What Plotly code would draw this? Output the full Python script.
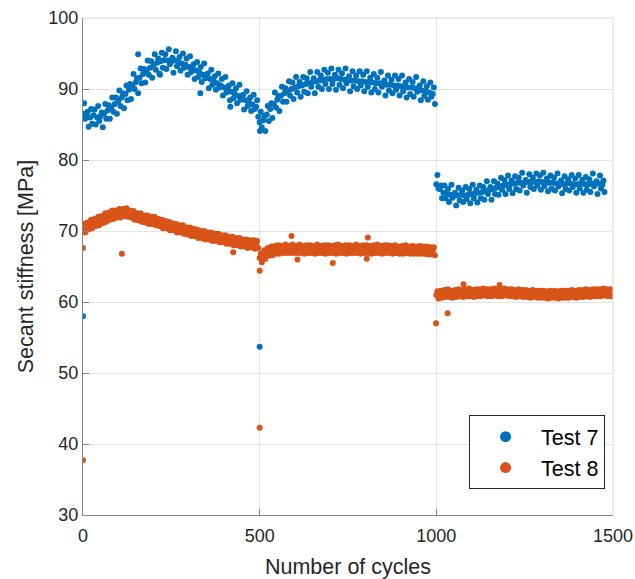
import plotly.graph_objects as go

# Sample positions (cycle numbers) of the readings, one reading per 10 cycles per row
cycles_mid = list(range(0, 1500, 10))
cycles_hi = list(range(3, 1500, 10))
cycles_lo = list(range(6, 1500, 10))

# ---- Test 7 (blue) : read band centre, upper and lower rows ----
t7_mid = [86.5,86.2,86.0,86.3,86.0,86.2,86.6,87.0,87.4,87.9, 88.3,88.8,89.3,89.9,90.5,91.0,91.6,92.1,92.6,93.0,
          93.4,93.7,93.9,94.1,94.0,93.9,94.0,93.8,93.6,93.4, 93.1,92.9,92.6,92.3,92.0,91.7,91.4,91.1,90.8,90.5,
          90.2,89.9,89.6,89.3,89.0,88.7,88.4,88.1,87.8,87.5,
          85.3,85.6,86.4,87.2,87.9,88.5,89.0,89.4,89.7,90.0, 90.2,90.4,90.5,90.7,90.8,91.0,91.1,91.2,91.3,91.4,
          91.4,91.4,91.5,91.4,91.3,91.3,91.2,91.2,91.1,91.1, 91.0,91.0,90.9,90.8,90.8,90.7,90.6,90.6,90.5,90.5,
          90.4,90.3,90.2,90.2,90.1,90.0,89.8,89.7,89.5,89.3,
          76.6,75.9,75.4,75.2,75.1,75.0,75.0,75.1,75.0,75.1, 75.2,75.3,75.4,75.5,75.6,75.8,75.9,76.1,76.3,76.4,
          76.5,76.6,76.7,76.8,76.8,76.8,76.9,76.9,76.9,77.0, 76.9,76.9,76.8,76.8,76.7,76.7,76.6,76.7,76.7,76.6,
          76.6,76.7,76.6,76.6,76.7,76.6,76.7,76.5,None,None]
t7_hi = [88.0,86.8,87.2,87.1,87.6,86.7,87.9,87.7,88.8,88.8, 89.8,89.4,90.5,90.7,92.1,91.5,92.9,92.8,94.0,93.9,
         94.9,94.3,95.1,94.9,95.6,94.4,95.3,94.5,95.0,94.3, 94.6,93.5,93.8,93.1,93.6,92.2,92.7,91.8,92.2,91.4,
         91.7,90.5,90.8,90.1,90.6,89.2,89.7,88.8,89.2,88.4,
         86.8,86.2,87.6,88.0,89.5,89.0,90.3,90.1,91.1,90.9, 91.7,91.0,91.7,91.5,92.4,91.5,92.4,91.9,92.7,92.3,
         92.9,92.0,92.7,92.2,92.9,91.8,92.5,91.9,92.5,92.0, 92.5,91.6,92.1,91.6,92.4,91.2,91.9,91.3,91.9,91.4,
         91.9,90.9,91.4,91.0,91.7,90.5,91.1,90.4,90.9,90.2,
         77.9,76.4,76.4,75.9,76.5,75.4,76.1,75.7,76.2,75.9, 76.5,75.8,76.4,76.2,77.0,76.2,77.0,76.7,77.5,77.2,
         77.8,77.1,77.7,77.5,78.2,77.2,78.0,77.5,78.1,77.8, 78.2,77.4,77.8,77.5,78.1,77.1,77.7,77.3,77.9,77.4,
         77.9,77.2,77.6,77.3,78.1,77.0,77.8,77.1,None,None]
t7_lo = [85.8,84.7,85.1,85.0,85.5,84.6,85.8,85.8,86.8,86.5, 87.6,87.3,88.4,88.6,90.0,89.4,90.8,90.9,92.0,91.6,
         92.7,92.2,93.0,92.8,93.5,92.3,93.2,92.6,93.0,92.0, 92.4,91.4,91.7,91.0,91.5,90.1,90.6,89.9,90.2,89.1,
         89.5,88.4,88.7,88.0,88.5,87.1,87.6,86.9,87.2,86.1,
         84.6,84.1,85.5,85.9,87.4,86.9,88.2,88.2,89.1,88.6, 89.5,88.9,89.6,89.4,90.3,89.4,90.3,90.0,90.7,90.0,
         90.7,89.9,90.6,90.1,90.8,89.7,90.4,90.0,90.5,89.7, 90.3,89.5,90.0,89.5,90.3,89.1,89.8,89.4,89.9,89.1,
         89.7,88.8,89.3,88.9,89.6,88.4,89.0,88.5,88.9,87.9,
         76.0,74.6,74.6,74.1,74.7,73.6,74.3,74.1,74.5,73.9, 74.6,74.0,74.6,74.4,75.2,74.4,75.2,75.1,75.8,75.2,
         75.9,75.3,75.9,75.7,76.4,75.4,76.2,75.9,76.4,75.8, 76.3,75.6,76.0,75.7,76.3,75.3,75.9,75.7,76.2,75.4,
         76.0,75.4,75.8,75.5,76.3,75.2,76.0,75.5,None,None]
t7_out_x = [0, 500, 501, 156, 218, 332, 417]
t7_out_y = [58.0, 53.7, 84.1, 94.9, 92.0, 89.4, 87.5]

# ---- Test 8 (orange) ----
t8_mid = [70.4,70.7,71.0,71.2,71.4,71.6,71.9,72.1,72.3,72.4, 72.5,72.6,72.6,72.4,72.2,72.0,71.9,71.7,71.6,71.5,
          71.4,71.2,71.0,70.9,70.7,70.6,70.4,70.3,70.2,70.0, 69.9,69.8,69.6,69.5,69.4,69.3,69.2,69.1,69.0,68.9,
          68.8,68.7,68.6,68.5,68.4,68.3,68.2,68.2,68.1,68.1,
          66.2,66.7,67.0,67.2,67.3,67.4,67.4,67.5,67.4,67.5, 67.4,67.5,67.4,67.4,67.5,67.4,67.5,67.4,67.4,67.5,
          67.4,67.4,67.5,67.4,67.4,67.5,67.4,67.5,67.4,67.4, 67.5,67.4,67.4,67.5,67.4,67.4,67.5,67.4,67.4,67.3,
          67.4,67.4,67.3,67.4,67.3,67.4,67.3,67.3,67.2,67.2,
          61.0,61.1,61.2,61.2,61.1,61.2,61.3,61.2,61.3,61.3, 61.2,61.3,61.3,61.4,61.3,61.3,61.4,61.3,61.3,61.4,
          61.3,61.3,61.2,61.3,61.2,61.2,61.1,61.2,61.1,61.1, 61.1,61.0,61.1,61.1,61.0,61.1,61.1,61.1,61.2,61.1,
          61.2,61.2,61.3,61.2,61.3,61.3,61.3,61.4,61.3,61.3]
t8_hi = [71.0,71.2,71.6,71.7,72.0,72.1,72.5,72.6,72.9,72.9, 73.1,73.1,73.2,72.9,72.8,72.5,72.5,72.2,72.2,72.0,
         72.0,71.7,71.6,71.4,71.3,71.1,71.0,70.8,70.8,70.5, 70.5,70.3,70.2,70.0,70.0,69.8,69.8,69.6,69.6,69.4,
         69.4,69.2,69.2,69.0,69.0,68.8,68.8,68.7,68.7,68.6,
         66.8,67.3,67.6,67.8,67.9,68.0,67.9,68.1,67.9,68.1, 67.9,68.1,67.9,68.0,68.0,67.9,68.1,67.9,68.0,68.0,
         67.9,68.0,68.1,67.9,68.0,68.0,67.9,68.1,67.9,68.0, 68.0,67.9,68.0,68.1,67.9,68.0,68.0,67.9,68.0,67.8,
         67.9,68.0,67.8,67.9,67.8,67.9,67.8,67.8,67.7,67.7,
         61.5,61.6,61.7,61.8,61.6,61.7,61.8,61.7,61.8,61.9, 61.7,61.8,61.8,61.9,61.8,61.8,61.9,61.8,61.8,61.9,
         61.8,61.8,61.7,61.8,61.7,61.7,61.6,61.7,61.6,61.6, 61.6,61.5,61.6,61.6,61.5,61.6,61.6,61.6,61.7,61.6,
         61.7,61.7,61.8,61.7,61.8,61.8,61.8,61.9,61.8,61.8]
t8_lo = [69.8,70.2,70.4,70.7,70.8,71.1,71.3,71.6,71.7,71.9, 71.9,72.1,72.0,71.9,71.6,71.5,71.3,71.2,71.0,71.0,
         70.8,70.7,70.4,70.4,70.1,70.1,69.8,69.8,69.6,69.5, 69.3,69.3,69.0,69.0,68.8,68.8,68.6,68.6,68.4,68.4,
         68.2,68.2,68.0,68.0,67.8,67.8,67.6,67.7,67.5,67.6,
         65.6,66.1,66.5,66.6,66.8,66.8,66.9,66.9,66.9,66.9, 66.9,66.9,66.8,66.9,66.9,66.8,66.9,66.9,66.8,66.9,
         66.9,66.8,66.9,66.9,66.8,66.9,66.9,66.9,66.8,66.9, 66.9,66.8,66.9,66.9,66.8,66.9,66.9,66.8,66.9,66.8,
         66.8,66.9,66.8,66.8,66.8,66.8,66.8,66.7,66.7,66.6,
         60.5,60.6,60.7,60.7,60.6,60.7,60.8,60.7,60.8,60.8, 60.7,60.8,60.8,60.9,60.8,60.8,60.9,60.8,60.8,60.9,
         60.8,60.8,60.7,60.8,60.7,60.7,60.6,60.7,60.6,60.6, 60.6,60.5,60.6,60.6,60.5,60.6,60.6,60.6,60.7,60.6,
         60.7,60.7,60.8,60.7,60.8,60.8,60.8,60.9,60.8,60.8]
t8_out_x = [0, 0, 110, 425, 500, 500, 590, 806, 707, 607, 803, 999, 1032, 1077, 1179]
t8_out_y = [67.6, 37.7, 66.8, 67.0, 64.4, 42.3, 69.3, 69.1, 65.5, 66.0, 66.1, 57.0, 58.4, 62.5, 62.4]

series_names = ["Test 7", "Test 8"]
colors = ["#0072BD", "#D95319"]

fig = go.Figure()
for name, col, mid, hi, lo, ox, oy in [
    (series_names[0], colors[0], t7_mid, t7_hi, t7_lo, t7_out_x, t7_out_y),
    (series_names[1], colors[1], t8_mid, t8_hi, t8_lo, t8_out_x, t8_out_y),
]:
    xs = cycles_hi + cycles_mid + cycles_lo + ox
    ys = hi + mid + lo + oy
    fig.add_trace(go.Scatter(x=xs, y=ys, mode="markers", showlegend=False,
                             marker=dict(size=6, color=col, line=dict(width=0))))
    # legend entry
    fig.add_trace(go.Scatter(x=[None], y=[None], mode="markers", name=name,
                             marker=dict(size=11, color=col)))

font = "Liberation Sans, Arial, sans-serif"
axis_common = dict(showline=True, linecolor="#858585", linewidth=1.3,
                   showgrid=True, gridcolor="#e3e3e3", gridwidth=1,
                   ticks="inside", ticklen=6, tickcolor="#858585",
                   tickfont=dict(family=font, size=18, color="#262626"),
                   zeroline=False, mirror=False, automargin=False)

fig.update_layout(
    width=635, height=579,
    margin=dict(l=83, r=22, t=18, b=64),
    paper_bgcolor="white", plot_bgcolor="white",
    xaxis=dict(range=[0, 1500], tickvals=[0, 500, 1000, 1500],
               ticklabelstandoff=4,
               title=dict(text="Number of cycles", font=dict(family=font, size=21.5, color="#262626"),
                          standoff=15),
               **axis_common),
    yaxis=dict(range=[30, 100], tickvals=[30, 40, 50, 60, 70, 80, 90, 100],
               title=dict(text="Secant stiffness [MPa]", font=dict(family=font, size=21.5, color="#262626"),
                          standoff=8),
               **axis_common),
    legend=dict(x=0.985, y=0.052, xanchor="right", yanchor="bottom",
                bgcolor="white", bordercolor="#262626", borderwidth=1,
                font=dict(family=font, size=21.5, color="#000000"),
                itemwidth=61, tracegroupgap=0),
    showlegend=True,
)
# light top/right frame lines
fig.add_shape(type="line", xref="paper", yref="paper", x0=0, x1=1, y0=1, y1=1,
              line=dict(color="#d9d9d9", width=1))
fig.add_shape(type="line", xref="paper", yref="paper", x0=1, x1=1, y0=0, y1=1,
              line=dict(color="#d9d9d9", width=1))

fig.write_html("out.html")
